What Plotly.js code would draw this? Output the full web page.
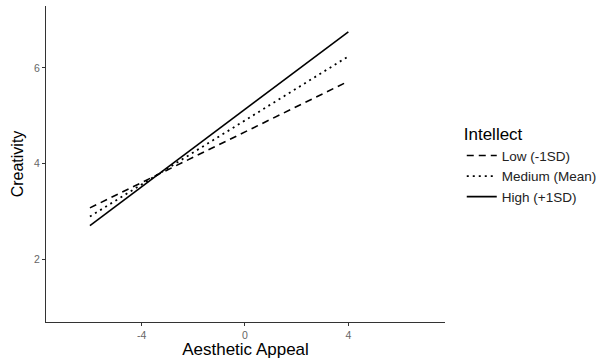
<!DOCTYPE html>
<html>
<head>
<meta charset="utf-8">
<script src="https://cdn.plot.ly/plotly-3.0.1.min.js"></script>
<style>html,body{margin:0;padding:0;background:#fff;}#chart{width:608px;height:359px;}</style>
</head>
<body>
<div id="chart"></div>
<script>
const xVals = [-6, 4];
const lowY = [3.08, 5.72];
const medY = [2.90, 6.24];
const highY = [2.71, 6.75];
const seriesNames = ["Low (-1SD)", "Medium (Mean)", "High (+1SD)"];
const xTicks = [-4, 0, 4];
const yTicks = [2, 4, 6];

const font = "Liberation Sans, Arial, sans-serif";
const traces = [
  {x: xVals, y: lowY, name: seriesNames[0], mode: "lines", line: {color: "#000", width: 1.6, dash: "7px,5px"}},
  {x: xVals, y: medY, name: seriesNames[1], mode: "lines", line: {color: "#000", width: 1.8, dash: "2px,4px"}},
  {x: xVals, y: highY, name: seriesNames[2], mode: "lines", line: {color: "#000", width: 1.6}}
];

const layout = {
  width: 608, height: 359,
  margin: {l: 46, r: 153, t: 6, b: 37},
  paper_bgcolor: "#fff", plot_bgcolor: "#fff",
  font: {family: font, color: "#000"},
  showlegend: true,
  legend: {
    x: 1.042, xanchor: "left", y: 0.645, yanchor: "top",
    title: {text: "Intellect", font: {size: 17, family: font, color: "#000"}},
    font: {size: 13.5, family: font, color: "#222"},
    tracegroupgap: 0, bgcolor: "rgba(0,0,0,0)"
  },
  xaxis: {
    range: [-7.7, 7.74], tickvals: xTicks, ticktext: xTicks.map(String),
    showgrid: false, zeroline: false, showline: true, linecolor: "#333", linewidth: 1,
    ticks: "outside", ticklen: 3, tickcolor: "#333", tickwidth: 1,
    tickfont: {size: 10.5, color: "#666", family: font},
    title: {text: "Aesthetic Appeal", font: {size: 17, color: "#000", family: font}, standoff: 4}
  },
  yaxis: {
    range: [0.7, 7.29], tickvals: yTicks, ticktext: yTicks.map(String),
    showgrid: false, zeroline: false, showline: true, linecolor: "#333", linewidth: 1,
    ticks: "outside", ticklen: 3, tickcolor: "#333", tickwidth: 1,
    tickfont: {size: 10.5, color: "#666", family: font},
    title: {text: "Creativity", font: {size: 16, color: "#000", family: font}, standoff: 6}
  }
};
Plotly.newPlot("chart", traces, layout, {displayModeBar: false, staticPlot: true});
</script>
</body>
</html>
